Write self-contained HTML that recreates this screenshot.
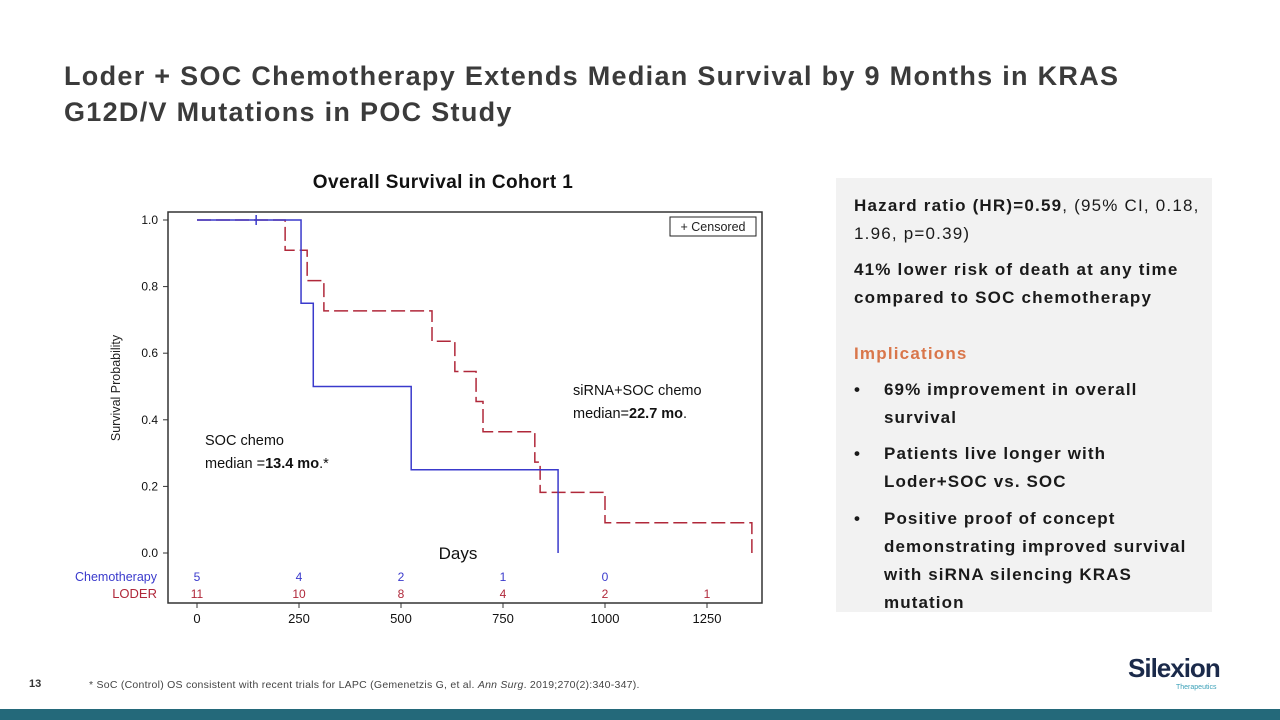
<!DOCTYPE html>
<html><head><meta charset="utf-8"><style>
body{margin:0;width:1280px;height:720px;background:#fff;position:relative;overflow:hidden;font-family:"Liberation Sans",sans-serif}
.abs{position:absolute}
h1{position:absolute;left:64px;top:58px;margin:0;font-size:27px;line-height:36px;color:#3b3b3b;font-weight:bold;letter-spacing:1.3px;white-space:nowrap}
#panel{left:836px;top:178px;width:376px;height:434px;background:#f2f2f2}
#panel p{margin:0;position:absolute;left:18px;font-size:17px;line-height:28px;color:#1a1a1a;letter-spacing:1.2px;white-space:nowrap}
.b{font-weight:bold}
.li{position:absolute;left:18px;font-size:17px;line-height:28px;font-weight:bold;color:#1a1a1a;letter-spacing:1.1px}
.li span{position:absolute;left:30px;width:330px}
</style></head><body>
<h1>Loder + SOC Chemotherapy Extends Median Survival by 9 Months in KRAS<br>G12D/V Mutations in POC Study</h1>

<svg class="abs" style="left:0;top:0" width="800" height="640" id="chart" font-family="Liberation Sans, sans-serif">
<text x="443" y="188" text-anchor="middle" font-size="19" font-weight="bold" letter-spacing="0.4" fill="#111">Overall Survival in Cohort 1</text>
<rect x="168" y="212" width="594" height="391" fill="none" stroke="#333" stroke-width="1.5"/>
<text transform="translate(120,388) rotate(-90)" text-anchor="middle" font-size="12.5" fill="#222">Survival Probability</text>
<text x="458" y="559" text-anchor="middle" font-size="17" fill="#111">Days</text>
<rect x="670" y="217" width="86" height="19" fill="#fff" stroke="#222"/>
<text x="713" y="231" text-anchor="middle" font-size="12.5" fill="#222">+ Censored</text>
<text x="205" y="445" font-size="14.5" fill="#111">SOC chemo</text>
<text x="205" y="468" font-size="14.5" fill="#111">median =<tspan font-weight="bold">13.4 mo</tspan>.*</text>
<text x="573" y="395" font-size="14.5" fill="#111">siRNA+SOC chemo</text>
<text x="573" y="418" font-size="14.5" fill="#111">median=<tspan font-weight="bold">22.7 mo</tspan>.</text>
<text x="157" y="581" text-anchor="end" font-size="12.5" fill="#3a3acc">Chemotherapy</text>
<text x="157" y="598" text-anchor="end" font-size="13" fill="#b0283a">LODER</text>
<g id="g"></g>
</svg>

<div class="abs" id="panel">
<p style="top:14px"><span class="b">Hazard ratio (HR)=0.59</span>, (95% CI, 0.18,<br>1.96, p=0.39)</p>
<p style="top:78px" class="b">41% lower risk of death at any time<br>compared to SOC chemotherapy</p>
<p style="top:162px;color:#d9764a" class="b">Implications</p>
<div class="li" style="top:198px">•<span>69% improvement in overall survival</span></div>
<div class="li" style="top:262px">•<span>Patients live longer with Loder+SOC vs. SOC</span></div>
<div class="li" style="top:327px">•<span>Positive proof of concept demonstrating improved survival with siRNA silencing KRAS mutation</span></div>
</div>

<div class="abs" style="left:29px;top:678px;font-size:11px;color:#333;font-weight:bold">13</div>
<div class="abs" style="left:89px;top:679px;font-size:10.5px;letter-spacing:0.25px;color:#444;white-space:nowrap">* SoC (Control) OS consistent with recent trials for LAPC (Gemenetzis G, et al. <i>Ann Surg</i>. 2019;270(2):340-347).</div>
<div class="abs" style="left:1128px;top:653px;font-size:26px;font-weight:bold;color:#1b2a4a;letter-spacing:-1px">Silexion</div>
<div class="abs" style="left:1176px;top:684px;font-size:7px;color:#3aa0b8">Therapeutics</div>
<div class="abs" style="left:0;top:709px;width:1280px;height:11px;background:#24697a"></div>

<script>
const xTicks=[0,250,500,750,1000,1250];
const yTicks=[0.0,0.2,0.4,0.6,0.8,1.0];
const chemoTimes=[0,255,285,525,885];
const chemoSurv=[1.0,0.75,0.5,0.25,0.0];
const chemoCensor=[145];
const loderTimes=[0,216,270,311,576,632,684,701,828,841,1000,1360];
const loderSurv=[1.0,0.909,0.818,0.727,0.636,0.545,0.455,0.364,0.273,0.182,0.091,0.0];
const riskChemo=[5,4,2,1,0];
const riskLoder=[11,10,8,4,2,1];
const NS='http://www.w3.org/2000/svg';
const g=document.getElementById('g');
const X=d=>197+d*(707-197)/1250;
const Y=p=>553-p*(553-220);
function mk(t,a){const e=document.createElementNS(NS,t);for(const k in a)e.setAttribute(k,a[k]);g.appendChild(e);return e;}
xTicks.forEach((v,i)=>{
 const l=mk('line',{x1:X(v),x2:X(v),y1:603,y2:608,stroke:'#333'});
 
 
 const t=mk('text',{x:X(v),y:623,'text-anchor':'middle','font-size':13,fill:'#111'});t.textContent=v;
 
 
});
yTicks.forEach(v=>{
 const l=mk('line',{x1:163,x2:168,y1:Y(v),y2:Y(v),stroke:'#333'});
 
 
 const t=mk('text',{x:158,y:Y(v)+4,'text-anchor':'end','font-size':12,fill:'#111'});t.textContent=v.toFixed(1);
 
 
});
function step(times,surv){
 let d='M'+X(times[0])+','+Y(surv[0]);
 for(let i=1;i<times.length;i++){d+=' H'+X(times[i])+' V'+Y(surv[i]);}
 return d;
}
const lp=mk('path',{d:step(loderTimes,loderSurv),fill:'none',stroke:'#b0283a','stroke-width':1.5,'stroke-dasharray':'14,5'});


const cp=mk('path',{d:step(chemoTimes,chemoSurv),fill:'none',stroke:'#3a3acc','stroke-width':1.5});


chemoCensor.forEach(c=>{
 let s=1;for(let i=0;i<chemoTimes.length;i++)if(chemoTimes[i]<=c)s=chemoSurv[i];
 const m=mk('line',{x1:X(c),x2:X(c),y1:Y(s)-5,y2:Y(s)+5,stroke:'#3a3acc','stroke-width':1.5});
 
 
});
riskChemo.forEach((v,i)=>{
 const t=mk('text',{x:X(xTicks[i]),y:581,'text-anchor':'middle','font-size':12,fill:'#3a3acc'});t.textContent=v;
 
 
});
riskLoder.forEach((v,i)=>{
 const t=mk('text',{x:X(xTicks[i]),y:598,'text-anchor':'middle','font-size':12,fill:'#b0283a'});t.textContent=v;
 
 
});
</script>
</body></html>
